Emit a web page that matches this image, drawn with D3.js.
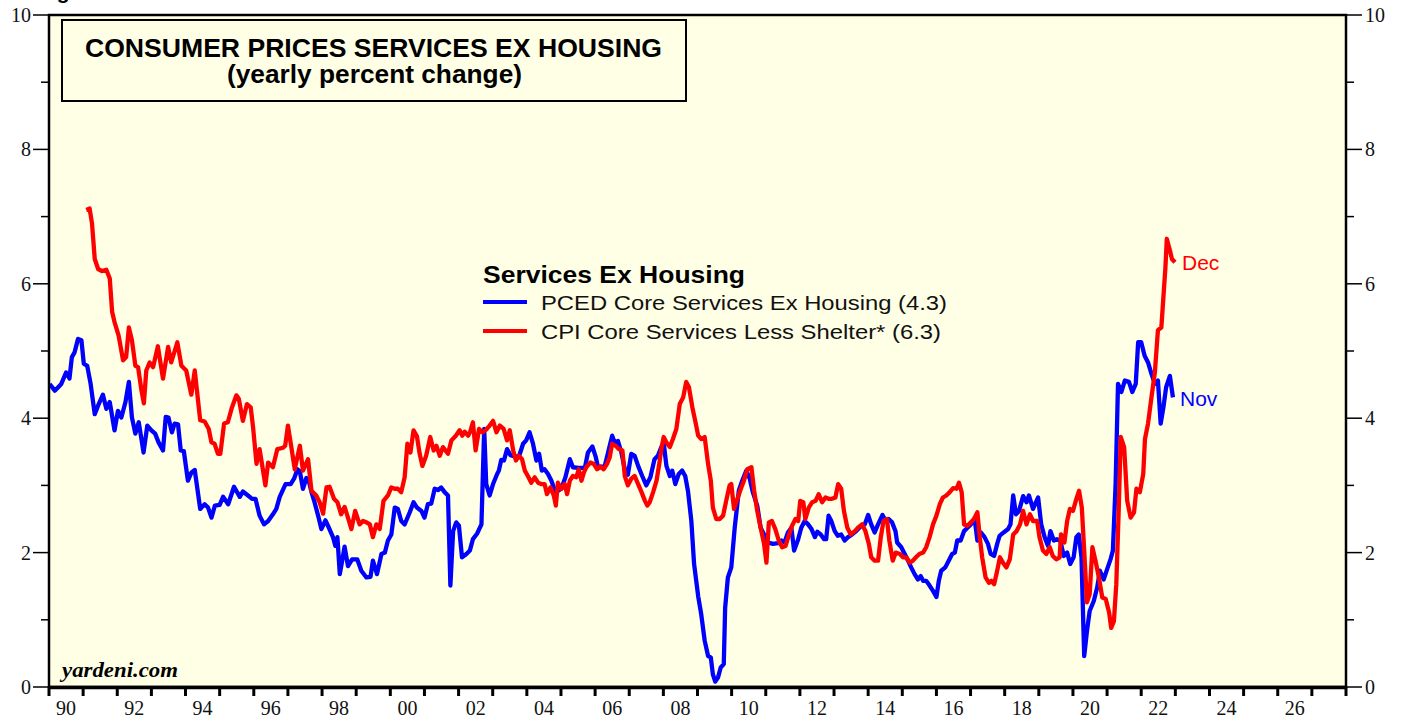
<!DOCTYPE html>
<html>
<head>
<meta charset="utf-8">
<script src="https://d3js.org/d3.v7.min.js"></script>
<style>
  body { margin: 0; background: #fff; }
  text { font-family: "Liberation Sans", Arial, sans-serif; }
  .ax { font-family: "Liberation Serif", "Times New Roman", serif; font-size: 20px; fill: #111; }
</style>
</head>
<body>
<script>
// PCED core services ex housing, yearly % change (decimal year, value)
var pcedDates = [1990.02,1990.17,1990.36,1990.50,1990.60,1990.67,1990.75,1990.85,1990.95,1991.02,1991.12,1991.22,1991.34,1991.44,1991.58,1991.68,1991.78,1991.92,
  1992.02,1992.12,1992.24,1992.34,1992.43,1992.53,1992.63,1992.77,1992.88,1993.00,1993.11,1993.21,1993.34,1993.42,1993.50,1993.60,1993.68,1993.78,1993.86,1993.95,
  1994.07,1994.17,1994.27,1994.43,1994.56,1994.66,1994.76,1994.86,1995.00,1995.10,1995.25,1995.42,1995.59,1995.68,1995.83,1995.95,1996.05,1996.17,1996.30,1996.42,
  1996.56,1996.66,1996.76,1996.93,1997.08,1997.18,1997.28,1997.35,1997.44,1997.54,1997.61,1997.69,1997.78,1997.90,1997.98,1998.10,1998.20,1998.32,1998.39,1998.45,
  1998.52,1998.59,1998.66,1998.76,1998.88,1999.03,1999.15,1999.30,1999.42,1999.49,1999.61,1999.74,1999.84,1999.93,2000.03,2000.13,2000.22,2000.32,2000.42,2000.57,
  2000.68,2000.78,2000.91,2001.00,2001.10,2001.20,2001.30,2001.40,2001.49,2001.59,2001.69,2001.76,2001.84,2001.93,2002.01,2002.10,2002.23,2002.33,2002.42,2002.54,
  2002.67,2002.75,2002.81,2002.91,2003.01,2003.13,2003.18,2003.25,2003.33,2003.42,2003.52,2003.64,2003.77,2003.89,2003.98,2004.08,2004.18,2004.28,2004.36,2004.44,
  2004.52,2004.62,2004.72,2004.82,2004.91,2005.01,2005.13,2005.26,2005.35,2005.50,2005.70,2005.79,2005.92,2006.02,2006.09,2006.18,2006.28,2006.38,2006.50,2006.57,
  2006.67,2006.77,2006.87,2006.96,2007.06,2007.16,2007.26,2007.38,2007.50,2007.62,2007.74,2007.84,2007.94,2008.01,2008.09,2008.19,2008.26,2008.35,2008.45,2008.55,
  2008.64,2008.72,2008.82,2008.90,2009.02,2009.11,2009.21,2009.31,2009.39,2009.45,2009.52,2009.60,2009.68,2009.77,2009.81,2009.89,2009.99,2010.09,2010.21,2010.31,
  2010.43,2010.53,2010.62,2010.75,2010.85,2010.95,2011.07,2011.21,2011.36,2011.46,2011.55,2011.65,2011.75,2011.83,2011.95,2012.04,2012.14,2012.24,2012.34,2012.44,
  2012.51,2012.61,2012.71,2012.77,2012.84,2012.92,2013.02,2013.11,2013.21,2013.31,2013.41,2013.53,2013.65,2013.80,2013.90,2014.00,2014.09,2014.19,2014.29,2014.42,
  2014.52,2014.60,2014.70,2014.80,2014.85,2014.97,2015.07,2015.17,2015.26,2015.36,2015.46,2015.54,2015.61,2015.70,2015.80,2015.90,2016.00,2016.07,2016.14,2016.26,
  2016.36,2016.46,2016.54,2016.61,2016.71,2016.81,2016.91,2017.01,2017.12,2017.20,2017.30,2017.41,2017.51,2017.59,2017.69,2017.78,2017.85,2017.97,2018.10,2018.17,
  2018.25,2018.33,2018.42,2018.54,2018.64,2018.71,2018.83,2018.98,2019.07,2019.17,2019.27,2019.34,2019.44,2019.53,2019.63,2019.73,2019.83,2019.92,2020.02,2020.10,
  2020.17,2020.25,2020.33,2020.41,2020.49,2020.61,2020.71,2020.79,2020.90,2021.00,2021.10,2021.17,2021.25,2021.32,2021.42,2021.52,2021.64,2021.74,2021.84,2021.91,
  2022.00,2022.10,2022.20,2022.30,2022.40,2022.49,2022.57,2022.65,2022.73,2022.84,2022.93];
var pcedValues = [4.51,4.41,4.51,4.68,4.59,4.91,4.98,5.18,5.16,4.81,4.78,4.51,4.06,4.19,4.35,4.14,4.24,3.82,
  4.11,4.01,4.24,4.54,4.01,3.77,3.94,3.49,3.89,3.82,3.77,3.64,3.52,4.02,4.01,3.79,3.92,3.91,3.52,3.51,
  3.07,3.19,3.23,2.65,2.72,2.67,2.52,2.70,2.71,2.83,2.72,2.98,2.83,2.91,2.85,2.80,2.80,2.55,2.42,2.47,
  2.57,2.65,2.83,3.02,3.02,3.10,3.24,3.21,2.95,3.11,3.07,2.90,2.75,2.52,2.35,2.48,2.37,2.23,2.10,2.23,
  1.68,1.88,2.09,1.80,1.90,1.90,1.73,1.63,1.64,1.88,1.68,1.98,2.00,2.18,2.27,2.67,2.65,2.47,2.42,2.60,
  2.75,2.67,2.62,2.52,2.72,2.73,2.95,2.93,2.97,2.90,2.85,1.51,2.32,2.45,2.40,1.93,1.98,2.03,2.20,2.28,
  2.42,3.84,3.02,2.85,3.02,3.17,3.22,3.38,3.37,3.54,3.45,3.43,3.43,3.62,3.67,3.79,3.62,3.37,3.47,3.22,
  3.24,3.17,3.07,2.92,2.92,2.95,3.12,3.39,3.27,3.26,3.26,3.49,3.58,3.42,3.26,3.28,3.28,3.49,3.74,3.64,
  3.66,3.49,3.24,3.16,3.47,3.44,3.29,3.14,3.00,3.12,3.39,3.44,3.57,3.63,3.29,3.14,3.22,3.02,3.17,3.22,
  3.14,2.92,2.47,1.83,1.35,1.08,0.69,0.46,0.44,0.19,0.08,0.14,0.29,0.34,1.18,1.63,1.78,2.37,2.92,3.07,
  3.22,3.10,2.90,2.70,2.37,2.27,2.15,2.13,2.14,2.18,2.15,2.30,2.37,2.03,2.20,2.37,2.47,2.42,2.35,2.23,
  2.31,2.27,2.20,2.20,2.55,2.47,2.32,2.25,2.27,2.18,2.23,2.27,2.32,2.40,2.42,2.56,2.42,2.30,2.42,2.56,
  2.47,2.50,2.45,2.32,2.15,2.08,1.98,1.88,1.78,1.68,1.60,1.65,1.58,1.58,1.51,1.43,1.34,1.58,1.73,1.78,
  1.88,1.98,2.00,2.18,2.18,2.32,2.37,2.42,2.50,2.18,2.30,2.23,2.13,1.98,1.95,2.13,2.25,2.30,2.35,2.42,
  2.85,2.57,2.62,2.84,2.75,2.85,2.65,2.82,2.42,2.23,2.10,2.32,2.18,2.20,2.18,1.95,2.00,1.83,1.93,2.23,
  2.27,1.93,0.46,0.83,1.13,1.28,1.48,1.73,1.60,1.75,1.90,2.03,3.02,4.51,4.39,4.56,4.54,4.39,4.51,5.13,
  5.13,4.93,4.83,4.66,4.51,4.56,3.92,4.16,4.46,4.63,4.31];

// CPI core services less shelter, yearly % change (decimal year, value)
var cpiDates = [1991.09,1991.19,1991.26,1991.34,1991.44,1991.55,1991.68,1991.78,1991.85,1991.92,1992.04,1992.17,1992.26,1992.34,1992.43,1992.53,1992.61,1992.71,
  1992.78,1992.85,1992.95,1993.05,1993.19,1993.34,1993.49,1993.58,1993.76,1993.88,1994.02,1994.17,1994.27,1994.43,1994.56,1994.68,1994.76,1994.85,1994.95,1995.02,
  1995.13,1995.24,1995.36,1995.49,1995.56,1995.68,1995.80,1995.91,1995.98,1996.08,1996.17,1996.34,1996.42,1996.56,1996.69,1996.86,1996.92,1997.00,1997.10,1997.20,
  1997.35,1997.44,1997.59,1997.69,1997.83,1997.93,1998.03,1998.13,1998.22,1998.35,1998.45,1998.56,1998.66,1998.73,1998.86,1998.97,1999.10,1999.20,1999.30,1999.40,
  1999.49,1999.59,1999.69,1999.80,1999.93,2000.03,2000.13,2000.22,2000.32,2000.42,2000.50,2000.59,2000.68,2000.78,2000.86,2000.94,2001.05,2001.17,2001.27,2001.35,
  2001.45,2001.54,2001.69,2001.79,2001.92,2002.03,2002.11,2002.18,2002.28,2002.34,2002.42,2002.50,2002.60,2002.70,2002.81,2002.91,2003.01,2003.11,2003.21,2003.32,
  2003.42,2003.50,2003.60,2003.68,2003.77,2003.86,2003.94,2004.03,2004.13,2004.23,2004.33,2004.42,2004.52,2004.59,2004.69,2004.79,2004.85,2004.91,2005.01,2005.11,
  2005.18,2005.26,2005.35,2005.45,2005.52,2005.60,2005.67,2005.74,2005.86,2005.96,2006.06,2006.15,2006.25,2006.35,2006.43,2006.50,2006.60,2006.70,2006.80,2006.87,
  2006.96,2007.06,2007.16,2007.26,2007.36,2007.46,2007.53,2007.60,2007.70,2007.80,2007.88,2007.95,2008.01,2008.09,2008.19,2008.28,2008.38,2008.48,2008.58,2008.67,
  2008.75,2008.85,2008.95,2009.02,2009.11,2009.21,2009.31,2009.39,2009.45,2009.55,2009.65,2009.75,2009.84,2009.94,2009.99,2010.07,2010.17,2010.27,2010.36,2010.46,
  2010.58,2010.66,2010.75,2010.85,2010.95,2011.02,2011.09,2011.18,2011.28,2011.38,2011.48,2011.58,2011.67,2011.77,2011.87,2011.95,2012.01,2012.10,2012.16,2012.26,
  2012.36,2012.46,2012.55,2012.65,2012.75,2012.84,2012.94,2013.04,2013.12,2013.21,2013.29,2013.39,2013.49,2013.61,2013.72,2013.82,2013.92,2014.02,2014.09,2014.19,
  2014.29,2014.37,2014.45,2014.55,2014.62,2014.72,2014.81,2014.93,2015.02,2015.12,2015.22,2015.31,2015.40,2015.50,2015.61,2015.70,2015.80,2015.90,2016.00,2016.10,
  2016.19,2016.29,2016.39,2016.49,2016.59,2016.66,2016.74,2016.81,2016.91,2017.01,2017.10,2017.20,2017.27,2017.34,2017.44,2017.54,2017.61,2017.69,2017.76,2017.86,
  2017.95,2018.05,2018.15,2018.25,2018.35,2018.45,2018.54,2018.64,2018.74,2018.83,2018.95,2019.02,2019.12,2019.22,2019.32,2019.41,2019.51,2019.61,2019.65,2019.75,
  2019.83,2019.91,2020.00,2020.10,2020.18,2020.26,2020.33,2020.41,2020.49,2020.57,2020.66,2020.76,2020.86,2020.96,2021.06,2021.12,2021.20,2021.27,2021.34,2021.40,
  2021.50,2021.59,2021.69,2021.79,2021.86,2021.96,2022.06,2022.11,2022.20,2022.30,2022.40,2022.49,2022.59,2022.65,2022.71,2022.75,2022.84,2022.90,2022.99];
var cpiValues = [7.10,7.12,6.90,6.37,6.22,6.19,6.21,6.08,5.58,5.43,5.23,4.86,4.91,5.35,5.16,4.78,4.76,4.41,
  4.22,4.71,4.83,4.76,5.07,4.59,5.06,4.83,5.13,4.78,4.71,4.35,4.71,3.97,3.95,3.84,3.64,3.62,3.47,3.47,
  3.92,3.94,4.16,4.34,4.29,3.96,4.21,4.16,3.86,3.32,3.54,3.00,3.34,3.27,3.54,3.56,3.59,3.89,3.57,3.24,
  3.59,3.22,3.39,2.92,2.85,2.75,2.58,2.97,2.98,2.80,2.75,2.57,2.68,2.57,2.35,2.62,2.42,2.47,2.45,2.42,
  2.23,2.42,2.35,2.77,2.85,2.97,2.95,2.95,2.90,3.12,3.62,3.49,3.82,3.73,3.47,3.29,3.44,3.72,3.52,3.59,
  3.44,3.57,3.47,3.67,3.74,3.82,3.74,3.80,3.74,3.80,3.94,3.52,3.84,3.79,3.83,3.89,3.96,3.79,3.89,3.84,
  3.67,3.82,3.52,3.37,3.44,3.39,3.22,3.14,3.04,3.12,3.04,3.02,3.02,2.87,2.97,2.85,2.70,3.04,2.95,3.02,
  2.87,3.07,3.14,3.12,3.24,3.07,3.19,3.27,3.34,3.32,3.24,3.28,3.24,3.32,3.42,3.62,3.59,3.54,3.52,3.14,
  3.00,3.10,3.14,3.02,2.90,2.77,2.70,2.75,2.90,3.07,3.32,3.57,3.72,3.64,3.57,3.69,3.84,4.21,4.31,4.54,
  4.46,4.16,3.92,3.74,3.69,3.72,3.32,3.07,2.67,2.50,2.50,2.55,2.77,3.00,3.02,2.65,2.80,2.95,3.07,3.24,
  3.27,2.92,2.62,2.37,2.13,1.85,2.45,2.47,2.35,2.18,2.08,2.10,2.25,2.40,2.50,2.47,2.77,2.75,2.50,2.67,
  2.75,2.77,2.87,2.75,2.82,2.80,2.80,2.82,3.02,2.95,2.62,2.37,2.27,2.32,2.38,2.42,2.32,2.13,1.93,1.88,
  1.88,2.23,2.47,2.50,2.18,1.88,2.00,1.98,1.93,1.93,1.85,1.88,1.93,1.98,2.00,2.08,2.23,2.42,2.55,2.72,
  2.82,2.85,2.90,2.96,2.95,3.04,2.90,2.42,2.40,2.45,2.50,2.60,2.23,1.93,1.63,1.55,1.58,1.53,1.68,1.93,
  1.85,1.78,1.90,2.27,2.32,2.42,2.62,2.42,2.57,2.47,2.47,2.23,2.03,1.98,2.08,1.95,1.90,1.93,2.27,2.15,
  2.47,2.65,2.62,2.80,2.92,2.67,2.03,1.26,1.38,2.08,1.88,1.63,1.33,1.31,1.11,0.88,0.98,1.53,2.62,3.72,
  3.57,2.77,2.52,2.60,2.95,2.90,3.17,3.69,3.92,4.31,4.68,5.31,5.35,5.80,6.25,6.67,6.50,6.37,6.32];

var yTicks = [0, 2, 4, 6, 8, 10];
var yearLabels = ["90","92","94","96","98","00","02","04","06","08","10","12","14","16","18","20","22","24","26"];
var titleLines = ["CONSUMER PRICES SERVICES EX HOUSING", "(yearly percent change)"];
var legendTitle = "Services Ex Housing";
var legendItems = ["PCED Core Services Ex Housing (4.3)", "CPI Core Services Less Shelter* (6.3)"];

var W = 1405, H = 719;
var plotL = 49, plotR = 1346, plotT = 15, plotB = 687;

var svg = d3.select("body").append("svg")
    .attr("width", W)
    .attr("height", H);

var x = d3.scaleLinear().domain([1990, 2028]).range([plotL, plotR]);
var y = d3.scaleLinear().domain([0, 10]).range([plotB, plotT]);

// cut-off caption above the chart
svg.append("text")
    .attr("x", 38).attr("y", -1)
    .style("font-weight", "bold").style("font-size", "21px")
    .text("Figure");

svg.append("rect")
    .attr("x", plotL).attr("y", plotT)
    .attr("width", plotR - plotL).attr("height", plotB - plotT)
    .style("fill", "#ffffe6");

svg.append("clipPath").attr("id", "plot")
    .append("rect")
    .attr("x", plotL).attr("y", plotT)
    .attr("width", plotR - plotL).attr("height", plotB - plotT);

// axes
var yAll = d3.range(0, 11);
svg.append("g").selectAll("line")
    .data(yAll).enter().append("line")
    .attr("x1", d => plotL - (d % 2 === 0 ? 16 : 8)).attr("x2", plotL)
    .attr("y1", d => y(d)).attr("y2", d => y(d))
    .style("stroke", "#000").style("stroke-width", 1.5);
svg.append("g").selectAll("line")
    .data(yAll).enter().append("line")
    .attr("x1", plotR).attr("x2", d => plotR + (d % 2 === 0 ? 16 : 8))
    .attr("y1", d => y(d)).attr("y2", d => y(d))
    .style("stroke", "#000").style("stroke-width", 1.5);

svg.append("g").selectAll("text")
    .data(yTicks).enter().append("text")
    .attr("class", "ax")
    .attr("x", plotL - 18).attr("y", d => y(d)).attr("dy", "0.35em")
    .attr("text-anchor", "end")
    .text(d => d);
svg.append("g").selectAll("text")
    .data(yTicks).enter().append("text")
    .attr("class", "ax")
    .attr("x", plotR + 19).attr("y", d => y(d)).attr("dy", "0.35em")
    .text(d => d);

var years = d3.range(1990, 2029);
svg.append("g").selectAll("line")
    .data(years).enter().append("line")
    .attr("x1", d => x(d)).attr("x2", d => x(d))
    .attr("y1", plotB).attr("y2", plotB + 9)
    .style("stroke", "#000").style("stroke-width", 3);

svg.append("g").selectAll("text")
    .data(yearLabels).enter().append("text")
    .attr("class", "ax")
    .attr("x", (d, i) => x(1990 + 2 * i + 0.5))
    .attr("y", 715)
    .attr("text-anchor", "middle")
    .text(d => d);

// series
var line = d3.line()
    .x(d => x(d[0]))
    .y(d => y(d[1]));

var g = svg.append("g").attr("clip-path", "url(#plot)");
g.append("path")
    .datum(d3.zip(pcedDates, pcedValues))
    .attr("d", line)
    .style("fill", "none").style("stroke", "#0000ff")
    .style("stroke-width", 4.3).style("stroke-linejoin", "round");
g.append("path")
    .datum(d3.zip(cpiDates, cpiValues))
    .attr("d", line)
    .style("fill", "none").style("stroke", "#ff0000")
    .style("stroke-width", 4.3).style("stroke-linejoin", "round");

// frame
svg.append("rect")
    .attr("x", plotL).attr("y", plotT)
    .attr("width", plotR - plotL).attr("height", plotB - plotT)
    .style("fill", "none").style("stroke", "#000").style("stroke-width", 2.5);
svg.append("line")
    .attr("x1", plotL - 1).attr("x2", plotR + 1)
    .attr("y1", plotB + 0.5).attr("y2", plotB + 0.5)
    .style("stroke", "#000").style("stroke-width", 3.5);

// title box
svg.append("rect")
    .attr("x", 62).attr("y", 20).attr("width", 624).attr("height", 81)
    .style("fill", "#ffffe6").style("stroke", "#000").style("stroke-width", 2);
svg.append("text")
    .attr("x", 85).attr("y", 57)
    .attr("textLength", 577).attr("lengthAdjust", "spacingAndGlyphs")
    .style("font-weight", "bold").style("font-size", "25px")
    .text(titleLines[0]);
svg.append("text")
    .attr("x", 227).attr("y", 83)
    .attr("textLength", 295).attr("lengthAdjust", "spacingAndGlyphs")
    .style("font-weight", "bold").style("font-size", "25px")
    .text(titleLines[1]);

// legend
svg.append("text")
    .attr("x", 483).attr("y", 283)
    .attr("textLength", 262).attr("lengthAdjust", "spacingAndGlyphs")
    .style("font-weight", "bold").style("font-size", "23px")
    .text(legendTitle);
var legendColors = ["#0000ff", "#ff0000"];
var legendLens = [406, 400];
legendItems.forEach(function (t, i) {
    var ly = 302 + i * 29;
    svg.append("line")
        .attr("x1", 483).attr("x2", 527).attr("y1", ly).attr("y2", ly)
        .style("stroke", legendColors[i]).style("stroke-width", 4);
    svg.append("text")
        .attr("x", 541).attr("y", ly + 8)
        .attr("textLength", legendLens[i]).attr("lengthAdjust", "spacingAndGlyphs")
        .style("font-size", "21px").style("fill", "#111")
        .text(t);
});

// end labels
svg.append("text")
    .attr("x", 1182).attr("y", 270)
    .style("font-size", "21px").style("fill", "#ff0000")
    .text("Dec");
svg.append("text")
    .attr("x", 1180).attr("y", 406)
    .style("font-size", "21px").style("fill", "#0000ff")
    .text("Nov");

svg.append("text")
    .attr("x", 62).attr("y", 677)
    .attr("textLength", 116).attr("lengthAdjust", "spacingAndGlyphs")
    .style("font-family", "'Liberation Serif', 'Times New Roman', serif")
    .style("font-weight", "bold").style("font-style", "italic")
    .style("font-size", "22px")
    .text("yardeni.com");
</script>
</body>
</html>
